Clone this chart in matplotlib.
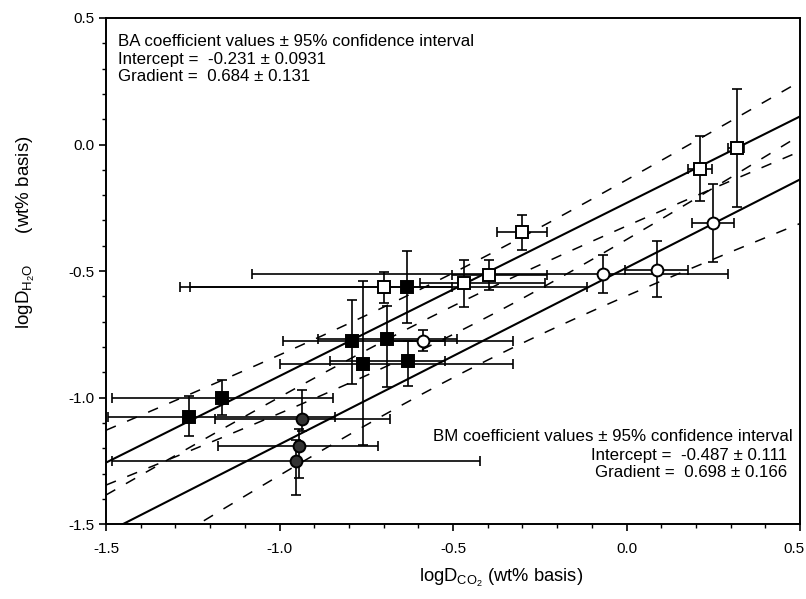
import numpy as np
import matplotlib
matplotlib.use("Agg")
import matplotlib.pyplot as plt
import matplotlib.transforms as mtrans
from matplotlib.ticker import MultipleLocator, FormatStrFormatter

plt.rcParams['font.family'] = ['Liberation Sans', 'DejaVu Sans']
plt.rcParams['axes.unicode_minus'] = False

# open squares (BA)
osq_x = [0.318, 0.212, -0.302, -0.396, -0.468, -0.699]
osq_y = [-0.013, -0.095, -0.347, -0.517, -0.549, -0.565]
osq_xlo = [0.292, 0.177, -0.374, -0.503, -0.595, -1.287]
osq_xhi = [0.339, 0.246, -0.229, -0.229, -0.235, -0.503]
osq_ylo = [-0.245, -0.225, -0.415, -0.573, -0.644, -0.625]
osq_yhi = [0.221, 0.032, -0.277, -0.455, -0.455, -0.502]

# filled squares (BA)
fsq_x = [-0.633, -0.792, -0.691, -0.760, -0.629, -1.167, -1.260]
fsq_y = [-0.565, -0.777, -0.768, -0.866, -0.856, -1.001, -1.076]
fsq_xlo = [-1.258, -0.990, -0.889, -0.999, -0.854, -1.484, -1.494]
fsq_xhi = [-0.114, -0.523, -0.488, -0.327, -0.523, -0.847, -0.840]
fsq_ylo = [-0.704, -0.945, -0.957, -1.186, -0.955, -1.067, -1.153]
fsq_yhi = [-0.419, -0.613, -0.640, -0.538, -0.777, -0.929, -0.992]

# open circles (BM)
ocir_x = [0.248, 0.088, -0.067, -0.587]
ocir_y = [-0.312, -0.494, -0.511, -0.775]
ocir_xlo = [0.189, -0.004, -1.079, -0.682]
ocir_xhi = [0.311, 0.177, 0.292, -0.327]
ocir_ylo = [-0.466, -0.601, -0.585, -0.817]
ocir_yhi = [-0.158, -0.383, -0.435, -0.731]

# filled circles (BM)
fcir_x = [-0.936, -0.944, -0.953]
fcir_y = [-1.084, -1.192, -1.252]
fcir_xlo = [-1.186, -1.177, -1.484]
fcir_xhi = [-0.682, -0.716, -0.422]
fcir_ylo = [-1.134, -1.316, -1.383]
fcir_yhi = [-0.971, -1.123, -1.166]

# regression fits and their 95% bands (centre x, half-width at centre, spread)
ba_fit = (-0.231, 0.684)
bm_fit = (-0.487, 0.698)
ba_band = (-0.55, 0.065, 0.116)
bm_band = (-0.45, 0.085, 0.16)

fig, ax = plt.subplots(figsize=(8.06, 5.99), dpi=100)
fig.subplots_adjust(left=0.1315, right=0.9926, top=0.97, bottom=0.125)

xs = np.linspace(-1.5, 0.5, 200)
for (a, b), (m, h0, k) in [(ba_fit, ba_band), (bm_fit, bm_band)]:
    yfit = a + b * xs
    half = np.sqrt(h0**2 + k**2 * (xs - m)**2)
    ax.plot(xs, yfit, color='black', lw=1.5, zorder=2)
    for sgn in (1, -1):
        ax.plot(xs, yfit + sgn * half, color='black', lw=1.1,
                dashes=(7, 8), zorder=2)


def draw(x, y, xlo, xhi, ylo, yhi, marker, face, ms):
    x = np.array(x); y = np.array(y)
    xerr = [x - np.array(xlo), np.array(xhi) - x]
    yerr = [y - np.array(ylo), np.array(yhi) - y]
    ax.errorbar(x, y, xerr=xerr, yerr=yerr, fmt='none', ecolor='black',
                elinewidth=1.2, capsize=3.5, capthick=1.2, zorder=3)
    ax.plot(x, y, linestyle='none', marker=marker, ms=ms, mfc=face,
            mec='black', mew=1.4, zorder=4)


draw(osq_x, osq_y, osq_xlo, osq_xhi, osq_ylo, osq_yhi, 's', 'white', 8)
draw(fsq_x, fsq_y, fsq_xlo, fsq_xhi, fsq_ylo, fsq_yhi, 's', 'black', 8.5)
draw(ocir_x, ocir_y, ocir_xlo, ocir_xhi, ocir_ylo, ocir_yhi, 'o', 'white', 8.5)
draw(fcir_x, fcir_y, fcir_xlo, fcir_xhi, fcir_ylo, fcir_yhi, 'o', '#333333', 8.5)

ax.set_xlim(-1.5, 0.5)
ax.set_ylim(-1.5, 0.5)
ax.set_xticks([-1.5, -1.0, -0.5, 0.0, 0.5])
ax.set_yticks([-1.5, -1.0, -0.5, 0.0, 0.5])
ax.xaxis.set_minor_locator(MultipleLocator(0.1))
ax.yaxis.set_minor_locator(MultipleLocator(0.1))
ax.xaxis.set_major_formatter(FormatStrFormatter('%.1f'))
ax.yaxis.set_major_formatter(FormatStrFormatter('%.1f'))
ax.tick_params(which='major', direction='out', length=5, width=1.2, labelsize=11)
ax.tick_params(axis='x', which='major', pad=8)
ax.tick_params(axis='y', which='major', pad=3)
ax.tick_params(which='minor', direction='out', length=3, width=1.0)
for s in ax.spines.values():
    s.set_linewidth(1.4)

ax.set_xlabel(r'logD$_{\mathregular{CO_2}}$ (wt% basis)', fontsize=13.2)
ax.xaxis.set_label_coords(0.569, -0.085)
ax.set_ylabel(r'logD$_{\mathregular{H_2O}}$      (wt% basis)', fontsize=13.5)
ax.yaxis.set_label_coords(-0.10, 0.577)

ax.text(0.018, 0.968, 'BA coefficient values \u00b1 95% confidence interval\n'
        'Intercept =  -0.231 \u00b1 0.0931\nGradient =  0.684 \u00b1 0.131',
        transform=ax.transAxes, fontsize=12.2, va='top', ha='left',
        linespacing=1.2)
ax.text(0.990, 0.188, 'BM coefficient values \u00b1 95% confidence interval',
        transform=ax.transAxes, fontsize=12.2, va='top', ha='right')
ax.text(0.981, 0.150, 'Intercept =  -0.487 \u00b1 0.111\nGradient =  0.698 \u00b1 0.166',
        transform=ax.transAxes, fontsize=12.2, va='top', ha='right',
        linespacing=1.15)

# keep the last x tick label inside the figure
fig.canvas.draw()
for lab in ax.get_xticklabels():
    if lab.get_text() == '0.5':
        lab.set_horizontalalignment('right')
        lab.set_transform(lab.get_transform() +
                          mtrans.ScaledTranslation(4 / 100, 0, fig.dpi_scale_trans))

fig.savefig('out.png', dpi=100)
